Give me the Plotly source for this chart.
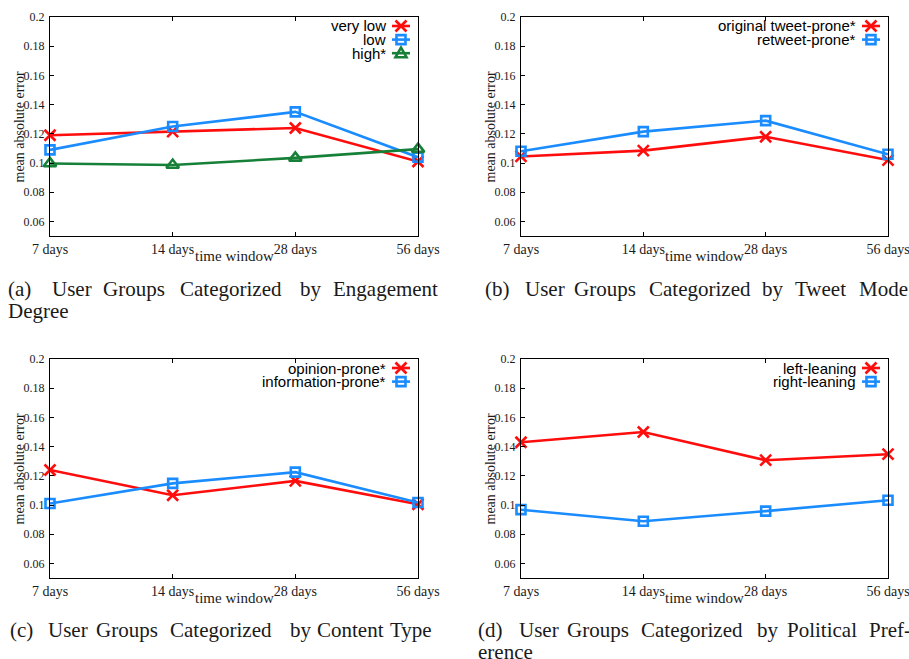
import plotly.graph_objects as go

W, H = 909, 659

# ---------------- data ----------------
windows = ["7 days", "14 days", "28 days", "56 days"]

a_very_low = [0.119, 0.1215, 0.124, 0.101]
a_low = [0.109, 0.125, 0.135, 0.104]
a_high = [0.0997, 0.0986, 0.1035, 0.1095]

b_original = [0.1045, 0.1085, 0.118, 0.102]
b_retweet = [0.108, 0.1215, 0.129, 0.106]

c_opinion = [0.124, 0.1067, 0.1165, 0.1005]
c_information = [0.101, 0.1148, 0.1225, 0.1017]

d_left = [0.143, 0.150, 0.1307, 0.1348]
d_right = [0.0968, 0.0889, 0.0958, 0.1033]

y_ticks = [0.06, 0.08, 0.1, 0.12, 0.14, 0.16, 0.18, 0.2]
y_ticktext = ["0.06", "0.08", "0.1", "0.12", "0.14", "0.16", "0.18", "0.2"]

# ---------------- styles ----------------
RED = "#ff0d0d"
BLUE = "#1a8cff"
GREEN = "#178038"
STYLE = {
    "x": dict(color=RED, symbol="x-thin-open", size=11),
    "sq": dict(color=BLUE, symbol="square-open", size=9),
    "tri": dict(color=GREEN, symbol="triangle-up-open", size=11),
}

# plot rectangles in pixels: (left, top, right, bottom)
panels = [
    (50, 17, 418, 236),
    (521, 17, 888, 236),
    (50, 359, 418, 578),
    (521, 359, 888, 578),
]

series = [
    [("very low", a_very_low, "x"), ("low", a_low, "sq"), ("high*", a_high, "tri")],
    [("original tweet-prone*", b_original, "x"), ("retweet-prone*", b_retweet, "sq")],
    [("opinion-prone*", c_opinion, "x"), ("information-prone*", c_information, "sq")],
    [("left-leaning", d_left, "x"), ("right-leaning", d_right, "sq")],
]

captions = [
    [[("(a)", 6), ("User", 50), ("Groups", 101), ("Categorized", 178), ("by", 298), ("Engagement", 331)],
     [("Degree", 6)]],
    [[("(b)", 483), ("User", 523), ("Groups", 572), ("Categorized", 647), ("by", 760), ("Tweet", 793), ("Mode", 857)]],
    [[("(c)", 8), ("User", 46), ("Groups", 94), ("Categorized", 168), ("by", 288), ("Content", 315), ("Type", 388)]],
    [[("(d)", 476), ("User", 517), ("Groups", 565), ("Categorized", 639), ("by", 755), ("Political", 785), ("Pref-", 867)],
     [("erence", 476)]],
]
caption_y = [[289, 311], [289], [630], [630, 652]]


def px(x):
    return x / W


def py(y):
    return 1 - y / H


fig = go.Figure()
shapes = []
annotations = []

SERIF = "Liberation Serif"
SANS = "Liberation Sans"
TXT = "#1a1a1a"

for i, (l, t, r, b) in enumerate(panels):
    n = i + 1
    xa = "xaxis" if n == 1 else f"xaxis{n}"
    ya = "yaxis" if n == 1 else f"yaxis{n}"
    xref = "x" if n == 1 else f"x{n}"
    yref = "y" if n == 1 else f"y{n}"

    for name, vals, key in series[i]:
        st = STYLE[key]
        fig.add_trace(go.Scatter(
            x=windows, y=vals, mode="lines+markers", name=name,
            xaxis=xref, yaxis=yref, showlegend=False, cliponaxis=False,
            line=dict(color=st["color"], width=2.6),
            marker=dict(symbol=st["symbol"], size=st["size"], color=st["color"],
                        line=dict(color=st["color"], width=2.6)),
        ))

    fig.layout[xa] = dict(
        domain=[px(l), px(r)], anchor=yref, type="category", automargin=False,
        categoryorder="array", categoryarray=windows, range=[0, 3],
        showline=True, linecolor="black", linewidth=1.3, mirror="ticks",
        ticks="inside", ticklen=4, tickcolor="black", showgrid=False, zeroline=False,
        tickfont=dict(family=SERIF, size=14, color=TXT), ticklabelstandoff=0,
    )
    fig.layout[ya] = dict(
        domain=[py(b), py(t)], anchor=xref, range=[0.05, 0.2], automargin=False,
        tickvals=y_ticks, ticktext=y_ticktext,
        showline=True, linecolor="black", linewidth=1.3, mirror=True,
        ticks="inside", ticklen=4, tickcolor="black", showgrid=False, zeroline=False,
        tickfont=dict(family=SERIF, size=12, color=TXT), ticklabelstandoff=2,
    )

    # axis titles
    annotations.append(dict(
        text="time window", x=px((l + r) / 2), y=py(b + 20), xref="paper", yref="paper",
        showarrow=False, xanchor="center", yanchor="middle",
        font=dict(family=SERIF, size=15, color=TXT)))
    annotations.append(dict(
        text="mean absolute error", x=px(l - 31), y=py((t + b) / 2), xref="paper", yref="paper",
        showarrow=False, xanchor="center", yanchor="middle", textangle=-90,
        font=dict(family=SERIF, size=14, color=TXT)))

    # custom legend (text then sample on the right)
    for k, (name, vals, key) in enumerate(series[i]):
        st = STYLE[key]
        yy = t + 9 + k * 13.6
        annotations.append(dict(
            text=name, x=px(r - 30), y=py(yy), xref="paper", yref="paper",
            showarrow=False, xanchor="right", yanchor="middle",
            font=dict(family=SANS, size=15, color="black")))
        shapes.append(dict(type="line", xref="paper", yref="paper",
                           x0=px(r - 26), x1=px(r - 8), y0=py(yy), y1=py(yy),
                           line=dict(color=st["color"], width=2.6)))
        cx = r - 17
        if key == "x":
            s = 5.5
            for d in (1, -1):
                shapes.append(dict(type="line", xref="paper", yref="paper",
                                   x0=px(cx - s), x1=px(cx + s), y0=py(yy - d * s), y1=py(yy + d * s),
                                   line=dict(color=st["color"], width=2.6)))
        elif key == "sq":
            s = 4.5
            shapes.append(dict(type="rect", xref="paper", yref="paper",
                               x0=px(cx - s), x1=px(cx + s), y0=py(yy - s), y1=py(yy + s),
                               line=dict(color=st["color"], width=2.6), fillcolor="rgba(0,0,0,0)"))
        else:
            s = 5.5
            path = (f"M {px(cx - s)} {py(yy + 4)} L {px(cx + s)} {py(yy + 4)} "
                    f"L {px(cx)} {py(yy - 5.5)} Z")
            shapes.append(dict(type="path", xref="paper", yref="paper", path=path,
                               line=dict(color=st["color"], width=2.6), fillcolor="rgba(0,0,0,0)"))

    # captions
    for li, words in enumerate(captions[i]):
        for w, x0 in words:
            annotations.append(dict(
                text=w, x=px(x0), y=py(caption_y[i][li]), xref="paper", yref="paper",
                showarrow=False, xanchor="left", yanchor="middle",
                font=dict(family=SERIF, size=21, color=TXT)))

fig.update_layout(
    width=W, height=H, margin=dict(l=0, r=0, t=0, b=0),
    paper_bgcolor="white", plot_bgcolor="white",
    shapes=shapes, annotations=annotations, showlegend=False,
)

fig.write_html("out.html", config={"displayModeBar": False},
               post_script="document.body.style.margin='0px';")
